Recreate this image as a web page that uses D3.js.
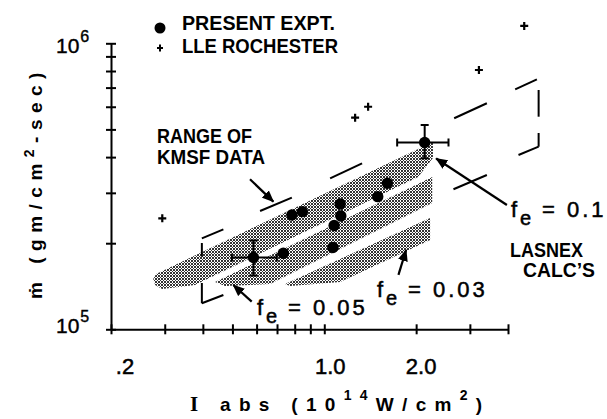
<!DOCTYPE html>
<html><head><meta charset="utf-8">
<script src="https://cdn.jsdelivr.net/npm/d3@7"></script>
<style>
body{margin:0;background:#fff}
svg{display:block}
text{font-family:"Liberation Sans","DejaVu Sans",Arial,sans-serif;fill:#000}
</style>
</head><body>
<svg id="c" width="607" height="419"></svg>
<script>
// ---------- data ----------
const xTicks=[0.2,0.3,0.4,0.5,0.6,0.7,0.8,0.9,1,2,3,4];
const xLabelValues=[0.2,1,2];
const xLabelTexts=[".2","1.0","2.0"];
const yTicks=[1e5,2e5,3e5,4e5,5e5,6e5,7e5,8e5,9e5,1e6];
const yLabelValues=[1e5,1e6];
const yLabelExps=["5","6"];

// present experiment (filled circles)
const presentI=[0.586,0.734,0.783,0.848,1.067,1.077,1.133,1.127,1.497,1.61,2.133];
const presentM=[1.782e5,1.844e5,2.51e5,2.578e5,1.932e5,2.307e5,2.49e5,2.743e5,2.909e5,3.24e5,4.5e5];
// error bars on two of them
const errI=[0.586,2.133];
const errM=[1.782e5,4.5e5];
const errILo=[0.498,1.733];
const errIHi=[0.699,2.553];
const errMLo=[1.542e5,3.963e5];
const errMHi=[2.044e5,5.18e5];

// LLE Rochester (+)
const lleI=[0.2945,1.262,1.392,3.212,4.521];
const lleM=[2.444e5,5.495e5,6.001e5,8.066e5,1.15e6];

// LASNEX calc bands (I, mdot outline)
const bandFe01=[[0.275,1.499e5],[0.281,1.561e5],[2.27,4.518e5],[2.27,3.972e5],[2.03,3.408e5],[0.377,1.428e5],[0.294,1.383e5],[0.279,1.428e5]];
const bandFe005=[[0.4385,1.463e5],[2.257,3.408e5],[2.257,2.765e5],[0.6645,1.44e5],[0.4729,1.417e5]];
const bandFe003=[[0.7437,1.44e5],[2.223,2.45e5],[2.223,2.052e5],[1.127,1.463e5],[0.7725,1.417e5]];

// range of KMSF data: long-dash outline pieces
const kmsfDashes=[
 [[0.397,2.08e5],[0.467,2.236e5]],
 [[0.616,2.592e5],[0.783,2.885e5]],
 [[1.045,3.373e5],[1.33,3.806e5]],
 [[2.665,5.468e5],[3.41,6.17e5]],
 [[4.223,6.9e5],[4.974,7.483e5]],
 [[5.04,6.866e5],[5.04,5.538e5]],
 [[5.04,4.858e5],[5.04,4.35e5]],
 [[5.04,4.35e5],[4.329,4.069e5]],
 [[3.41,3.463e5],[2.651,3.087e5]],
 [[0.467,1.318e5],[0.397,1.233e5]],
 [[0.397,1.233e5],[0.397,1.452e5]],
 [[0.397,1.794e5],[0.397,2.003e5]]
];

// annotation arrows (from, to) in data units
const arrows=[
 [[0.5709,3.345e5],[0.6808,2.795e5]],
 [[3.967,2.72e5],[2.326,3.956e5]],
 [[0.5783,1.249e5],[0.5035,1.428e5]],
 [[1.75,1.549e5],[1.854,1.894e5]]
];

const legendTexts=["PRESENT EXPT.","LLE ROCHESTER"];
const feValues=["0.1","0.05","0.03"];

// ---------- drawing ----------
const svg=d3.select("#c");
const x=d3.scaleLog().domain([0.2,4]).range([111,508]);
const y=d3.scaleLog().domain([1e5,1e6]).range([329.3,43.3]);

const defs=svg.append("defs");
const pat=defs.append("pattern").attr("id","stip").attr("patternUnits","userSpaceOnUse")
  .attr("width",3).attr("height",3);
pat.append("rect").attr("width",3).attr("height",3).attr("fill","#fff");
[[0,0],[1,1],[2,2],[2,0],[0,2]].forEach(p=>pat.append("rect").attr("x",p[0]).attr("y",p[1]).attr("width",1).attr("height",1).attr("fill","#333"));
defs.append("marker").attr("id","ah").attr("markerUnits","userSpaceOnUse")
  .attr("markerWidth",12).attr("markerHeight",10).attr("refX",11).attr("refY",5).attr("orient","auto")
  .append("path").attr("d","M0,0L12,5L0,10Z").attr("fill","#000");

const line=d3.line().x(d=>x(d[0])).y(d=>y(d[1]));

// bands
[bandFe01,bandFe005,bandFe003].forEach(b=>{
  svg.append("path").attr("d",line(b)+"Z").attr("fill","url(#stip)").attr("stroke","none");
});

// dashed outline
svg.append("g").selectAll("line").data(kmsfDashes).join("line")
  .attr("x1",d=>x(d[0][0])).attr("y1",d=>y(d[0][1]))
  .attr("x2",d=>x(d[1][0])).attr("y2",d=>y(d[1][1]))
  .attr("stroke","#000").attr("stroke-width",2);

// arrows
svg.append("g").selectAll("line").data(arrows).join("line")
  .attr("x1",d=>x(d[0][0])).attr("y1",d=>y(d[0][1]))
  .attr("x2",d=>x(d[1][0])).attr("y2",d=>y(d[1][1]))
  .attr("stroke","#000").attr("stroke-width",2.2).attr("marker-end","url(#ah)");

// axes
const gx=svg.append("g").attr("transform",`translate(0,${y(1e5)})`)
  .call(d3.axisBottom(x).tickValues(xTicks).tickSize(0).tickSizeOuter(0).tickFormat(""));
gx.selectAll(".tick line").attr("y1",-5).attr("y2",5).attr("stroke-width",2);
gx.select(".domain").attr("stroke-width",2);
const gy=svg.append("g").attr("transform",`translate(${x(0.2)},0)`)
  .call(d3.axisLeft(y).tickValues(yTicks).tickSize(0).tickSizeOuter(0).tickFormat(""));
gy.selectAll(".tick line").attr("x1",-5).attr("x2",5).attr("stroke-width",2);
gy.select(".domain").attr("stroke-width",2);

// x tick labels
const xdx=[14,6,5];
svg.append("g").selectAll("text").data(xLabelValues).join("text")
  .attr("x",(d,i)=>x(d)+xdx[i]).attr("y",y(1e5)+45).attr("text-anchor","middle")
  .attr("font-size",22).attr("stroke","#000").attr("stroke-width",0.5).text((d,i)=>xLabelTexts[i]);

// y tick labels
const ydy=[4,10];
yLabelValues.forEach((v,i)=>{
  const t=svg.append("text").attr("x",56).attr("y",y(v)+ydy[i]).attr("font-size",21)
    .attr("stroke","#000").attr("stroke-width",0.4);
  t.append("tspan").text("10");
  t.append("tspan").attr("dy",-11.5).attr("font-size",16).attr("dx",1).text(yLabelExps[i]);
});

// error bars
errI.forEach((v,i)=>{
  const cx=x(v),cy=y(errM[i]);
  const g=svg.append("g").attr("stroke","#000").attr("stroke-width",2);
  g.append("line").attr("x1",x(errILo[i])).attr("x2",x(errIHi[i])).attr("y1",cy).attr("y2",cy);
  g.append("line").attr("x1",x(errILo[i])).attr("x2",x(errILo[i])).attr("y1",cy-4).attr("y2",cy+4);
  g.append("line").attr("x1",x(errIHi[i])).attr("x2",x(errIHi[i])).attr("y1",cy-4).attr("y2",cy+4);
  g.append("line").attr("x1",cx).attr("x2",cx).attr("y1",y(errMHi[i])).attr("y2",y(errMLo[i]));
  g.append("line").attr("x1",cx-4).attr("x2",cx+4).attr("y1",y(errMHi[i])).attr("y2",y(errMHi[i]));
  g.append("line").attr("x1",cx-4).attr("x2",cx+4).attr("y1",y(errMLo[i])).attr("y2",y(errMLo[i]));
});

// circles
svg.append("g").selectAll("circle").data(presentI).join("circle")
  .attr("cx",d=>x(d)).attr("cy",(d,i)=>y(presentM[i])).attr("r",5.7).attr("fill","#000");

// crosses
svg.append("g").selectAll("path").data(lleI).join("path")
  .attr("transform",(d,i)=>`translate(${x(d)},${y(lleM[i])})`)
  .attr("d","M-4,0H4M0,-4V4").attr("stroke","#000").attr("stroke-width",2.2);

// legend
svg.append("circle").attr("cx",160).attr("cy",28).attr("r",5.5).attr("fill","#000");
svg.append("path").attr("transform","translate(160,48)").attr("d","M-3,0H3M0,-3.5V3.5").attr("stroke","#000").attr("stroke-width",2);
svg.append("text").attr("x",182).attr("y",30).attr("font-size",21).attr("font-weight","bold").attr("textLength",153).attr("lengthAdjust","spacingAndGlyphs").text(legendTexts[0]);
svg.append("text").attr("x",182).attr("y",52.5).attr("font-size",21).attr("font-weight","bold").attr("textLength",156).attr("lengthAdjust","spacingAndGlyphs").text(legendTexts[1]);

// annotations
const annoStyle=t=>t.attr("font-size",20).attr("font-weight","bold").attr("lengthAdjust","spacingAndGlyphs");
annoStyle(svg.append("text").attr("x",157).attr("y",143).attr("textLength",95)).text("RANGE OF");
annoStyle(svg.append("text").attr("x",157).attr("y",163.5).attr("textLength",108)).text("KMSF DATA");
annoStyle(svg.append("text").attr("x",510).attr("y",256.7).attr("textLength",73)).text("LASNEX");
annoStyle(svg.append("text").attr("x",523).attr("y",276.7).attr("textLength",72)).text("CALC\u2019S");

const feLabelPos=[[511,217],[257,315],[377,297]];
feValues.forEach((v,i)=>{
  const [lx,ly]=feLabelPos[i];
  const t=svg.append("text").attr("y",ly).attr("font-size",22).attr("stroke","#000").attr("stroke-width",0.5);
  t.append("tspan").attr("x",lx).text("f");
  t.append("tspan").attr("x",lx+9).attr("dy",8).attr("font-size",20).text("e");
  t.append("tspan").attr("x",lx+31).attr("dy",-8).attr("letter-spacing",3).text("= "+v);
});

// axis titles
const yt=svg.append("text").attr("transform","translate(42,182.5) rotate(-90)")
  .attr("text-anchor","middle").attr("font-size",19).attr("font-weight","bold").attr("letter-spacing",6.5);
yt.append("tspan").text("\u1E41 (gm/cm");
yt.append("tspan").attr("dy",-8).attr("font-size",14).text("2");
yt.append("tspan").attr("dy",8).text("-sec)");

const xt=svg.append("text").attr("x",190).attr("y",411).attr("font-size",19).attr("font-weight","bold").attr("letter-spacing",8.3);
xt.append("tspan").attr("font-family","Liberation Serif,serif").attr("font-size",21).text("I");
xt.append("tspan").text(" abs (10");
xt.append("tspan").attr("dy",-11).attr("font-size",14).text("14");
xt.append("tspan").attr("dy",11).text("W/cm");
xt.append("tspan").attr("dy",-11).attr("font-size",14).text("2");
xt.append("tspan").attr("dy",11).text(")");
</script>
</body></html>
